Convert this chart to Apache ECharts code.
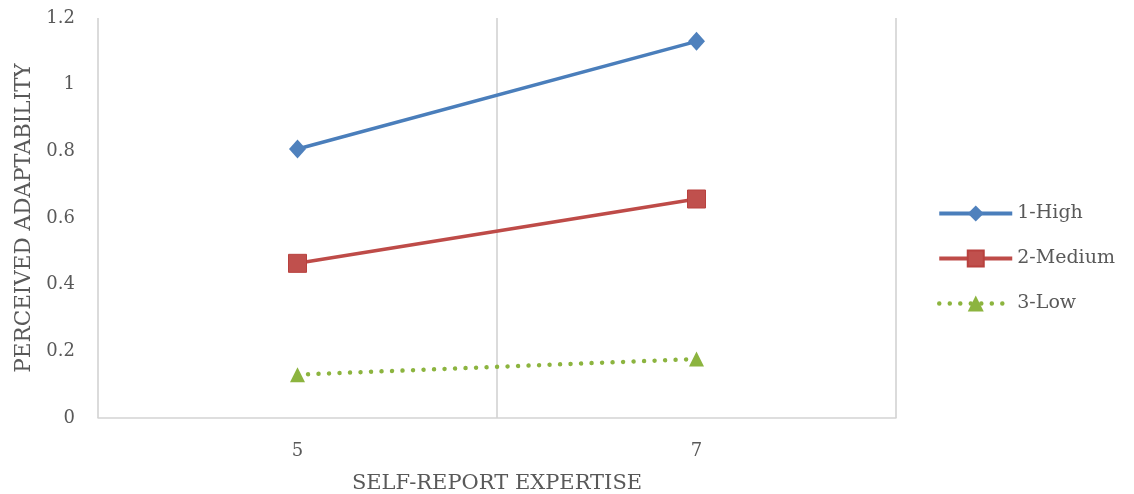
<!DOCTYPE html>
<html>
<head>
<meta charset="utf-8">
<script src="https://cdn.jsdelivr.net/npm/echarts@6/dist/echarts.min.js"></script>
<style>
  html, body { margin: 0; padding: 0; background: #fff; }
  #main { width: 1134px; height: 494px; }
</style>
</head>
<body>
<div id="main"></div>
<script>
// data
var categories = ['5', '7'];
var highVals = [0.807, 1.13];
var mediumVals = [0.464, 0.657];
var lowVals = [0.13, 0.177];
var yTicks = [0, 0.2, 0.4, 0.6, 0.8, 1, 1.2];

var font = 'DejaVu Serif';
var textColor = '#595959';

var chart = echarts.init(document.getElementById('main'));
var option = {
    backgroundColor: '#fff',
    animation: false,
    grid: { left: 98, right: 238, top: 18, bottom: 76, outerBoundsMode: 'none' },
    legend: {
        orient: 'vertical',
        left: 932,
        top: 199,
        itemWidth: 73,
        itemHeight: 20,
        itemGap: 26,
        textStyle: { fontFamily: font, fontSize: 19, color: textColor },
        data: [
            { name: '1-High', lineStyle: { width: 4 } },
            { name: '2-Medium', lineStyle: { width: 4 } },
            { name: '3-Low', lineStyle: { width: 4.5 } }
        ]
    },
    xAxis: {
        type: 'category',
        data: categories,
        boundaryGap: true,
        name: 'SELF-REPORT EXPERTISE',
        nameLocation: 'middle',
        nameGap: 55,
        nameTextStyle: { fontFamily: font, fontSize: 21, color: textColor },
        axisLine: { show: true, lineStyle: { color: '#d4d4d4', width: 1.5 } },
        axisTick: { show: false },
        axisLabel: { fontFamily: font, fontSize: 18, color: textColor, margin: 24 },
        splitLine: { show: true, lineStyle: { color: '#cfcfcf', width: 1.5 } }
    },
    yAxis: {
        type: 'value',
        min: 0,
        max: 1.2,
        interval: 0.2,
        name: 'PERCEIVED ADAPTABILITY',
        nameLocation: 'middle',
        nameGap: 63,
        nameTextStyle: { fontFamily: font, fontSize: 21.5, color: textColor },
        axisLine: { show: false },
        axisTick: { show: false },
        splitLine: { show: false },
        axisLabel: {
            fontFamily: font, fontSize: 18, color: textColor, margin: 23,
            formatter: function (v) {
                var hit = yTicks.filter(function (t) { return Math.abs(t - v) < 1e-9; });
                return hit.length ? String(hit[0]) : '';
            }
        }
    },
    series: [
        {
            name: '1-High',
            type: 'line',
            data: highVals,
            symbol: 'diamond',
            symbolSize: [17, 19],
            lineStyle: { color: '#4A7EBB', width: 3.5 },
            itemStyle: { color: '#4F81BD' }
        },
        {
            name: '2-Medium',
            type: 'line',
            data: mediumVals,
            symbol: 'rect',
            symbolSize: 18,
            lineStyle: { color: '#BE4B48', width: 3.5 },
            itemStyle: { color: '#C0504D', borderColor: '#B8413E', borderWidth: 1 }
        },
        {
            name: '3-Low',
            type: 'line',
            data: lowVals,
            symbol: 'triangle',
            symbolSize: 15,
            lineStyle: { color: '#8CB43F', width: 4.5, type: [0.01, 10.5], cap: 'round' },
            itemStyle: { color: '#8CB43F' }
        }
    ]
};
chart.setOption(option);
</script>
</body>
</html>
